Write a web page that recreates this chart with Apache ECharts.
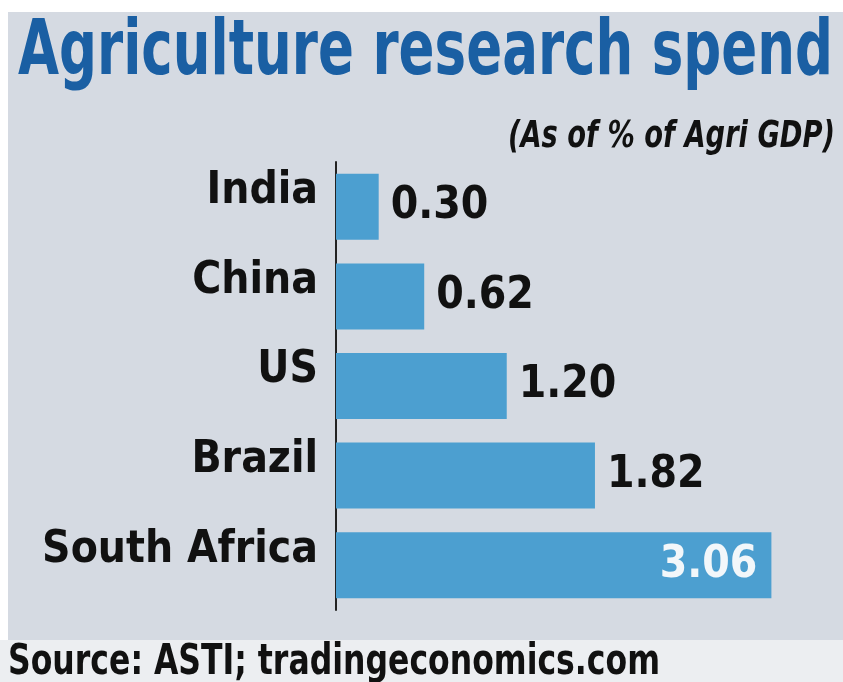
<!DOCTYPE html>
<html>
<head>
<meta charset="utf-8">
<style>
  html, body { margin: 0; padding: 0; background: #ffffff; }
  #chart { width: 843px; height: 682px; }
</style>
<script src="https://cdn.jsdelivr.net/npm/echarts@6/dist/echarts.min.js"></script>
</head>
<body>
<div id="chart"></div>
<script>
// ---- data ----
const titleText = 'Agriculture research spend';
const subtitleText = '(As of % of Agri GDP)';
const sourceText = 'Source: ASTI; tradingeconomics.com';
const categories = ['India', 'China', 'US', 'Brazil', 'South Africa'];
const values = [0.30, 0.62, 1.20, 1.82, 3.06];

// ---- helpers ----
const FONT = '"DejaVu Sans Condensed", "Liberation Sans Narrow", "Liberation Sans", sans-serif';
const measureCtx = document.createElement('canvas').getContext('2d');
function fitScale(text, font, targetWidth) {
  measureCtx.font = font;
  const w = measureCtx.measureText(text).width;
  return w > 0 ? targetWidth / w : 1;
}
function scaledText(text, fontSize, weight, style, color, x, y, align, targetWidth) {
  const font = style + ' ' + weight + ' ' + fontSize + 'px ' + FONT;
  const sx = fitScale(text, font, targetWidth);
  return {
    type: 'text', x: x, y: y, scaleX: sx, originX: 0, originY: 0, silent: true,
    style: { text: text, x: 0, y: 0, font: font, fill: color, align: align, verticalAlign: 'middle' }
  };
}

// ---- chart ----
const maxVal = Math.max(...values);
const seriesData = values.map(v => {
  if (v === maxVal) {
    return { value: v, label: { position: 'insideRight', distance: 14, color: '#f2f7fa' } };
  }
  return { value: v };
});

const chart = echarts.init(document.getElementById('chart'), null, { renderer: 'canvas' });
chart.setOption({
  backgroundColor: '#ffffff',
  animation: false,
  graphic: [
    { type: 'rect', z: -10, silent: true,
      shape: { x: 8, y: 12, width: 835, height: 628 },
      style: { fill: '#d5dae2' } },
    { type: 'rect', z: -10, silent: true,
      shape: { x: 0, y: 640, width: 843, height: 42 },
      style: { fill: '#eceef1' } },
    scaledText(titleText, 76, 'bold', 'normal', '#1a5fa3', 18, 54, 'left', 815),
    scaledText(subtitleText, 38, 'bold', 'italic', '#111111', 835, 137, 'right', 327),
    scaledText(sourceText, 42, 'bold', 'normal', '#111111', 8, 663, 'left', 652)
  ],
  grid: { left: 336, right: 9, top: 162, bottom: 72, containLabel: false, outerBoundsMode: 'none' },
  xAxis: { type: 'value', min: 0, max: 3.5, show: false },
  yAxis: {
    type: 'category', data: categories, inverse: true,
    axisLine: { show: true, lineStyle: { color: '#222222', width: 2 } },
    axisTick: { show: false },
    splitLine: { show: false },
    axisLabel: {
      margin: 18, fontFamily: FONT, fontWeight: 'bold', fontSize: 44, color: '#111111',
      verticalAlign: 'bottom', lineHeight: 30
    }
  },
  series: [{
    type: 'bar', data: seriesData, barWidth: 66,
    itemStyle: { color: '#4c9fd0' },
    label: {
      show: true, position: 'right', distance: 12,
      fontFamily: FONT, fontWeight: 'bold', fontSize: 44, color: '#111111',
      formatter: p => p.value.toFixed(2)
    }
  }]
});
</script>
</body>
</html>
